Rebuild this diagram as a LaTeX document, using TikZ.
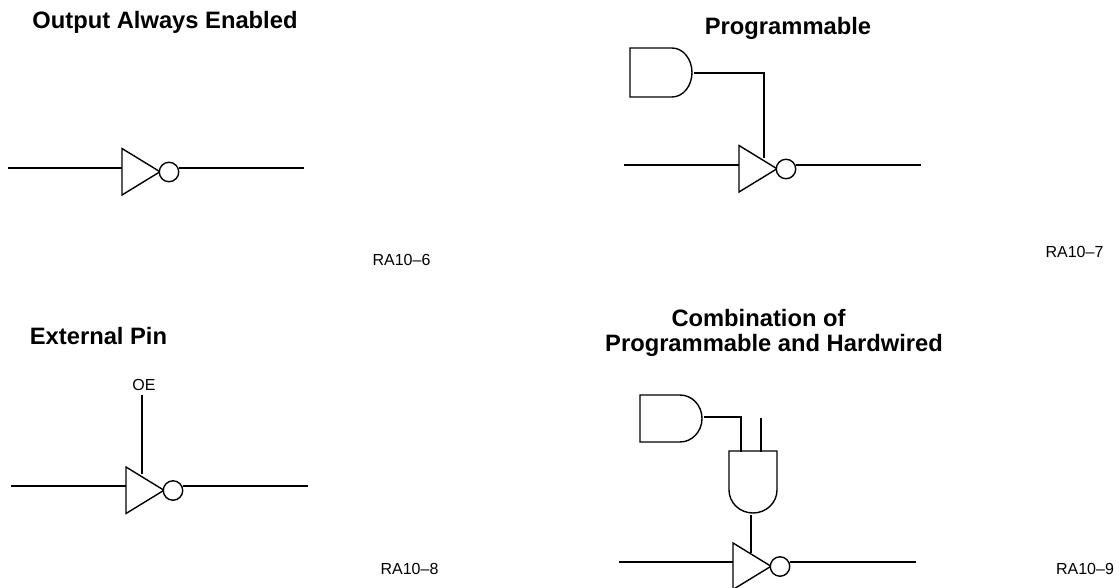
\documentclass[tikz,border=0pt]{standalone}
\usepackage{fontspec}
\setmainfont{Liberation Sans}
\usetikzlibrary{calc}
\tikzset{
  x=0.75pt,y=-0.75pt,
  wire/.style={line width=1.3pt,line cap=butt},
  gate/.style={line width=1.05pt,line join=miter},
  bubble/.style={circle,draw,line width=1.05pt,minimum size=14.6pt,inner sep=0pt,fill=white},
  title/.style={font=\fontsize{17.8}{20}\selectfont\bfseries,inner sep=0pt},
  tag/.style={font=\fontsize{12}{14}\selectfont,inner sep=0pt}
}
% name, triangle-left x, triangle-top y, wire y, input start x, output end x
\newcommand{\invgate}[6]{%
  \coordinate (#1top) at (#2,#3);
  \coordinate (#1bot) at ($(#2,#3)+(0,46.5)$);
  \coordinate (#1tip) at ($(#2,#3)+(38,23.25)$);
  \coordinate (#1in) at (#5,#4);
  \coordinate (#1lft) at (#2,#4);
  \coordinate (#1out) at (#6,#4);
  \draw[wire] (#1in) -- (#1lft);
  \draw[gate] (#1top) -- (#1tip) -- (#1bot) -- cycle;
  \node[bubble] (#1b) at ($(#2,#3)+(47,23.5)$) {};
  \draw[wire] (#1b.east |- #1out) -- (#1out);
}
\begin{document}
\begin{tikzpicture}
\useasboundingbox (0,0) rectangle (1119,588);

% Output Always Enabled
\node[title] (t1) at (165,22) {Output Always Enabled};
\invgate{a}{122}{148.5}{168}{8}{304}
\node[tag] (r1) at (401.5,260) {RA10–6};

% Programmable
\node[title] (t2) at (788,28) {Programmable};
\invgate{b}{739}{145.5}{165}{624}{921}
\coordinate (bt) at (630,48);
\draw[gate] (bt) -- (672,48) arc[start angle=-90,end angle=90,x radius=20,y radius=24.5] -- (630,97) -- cycle;
\coordinate (bo) at (694,73);
\coordinate (bc) at (764,73);
\coordinate (bd) at (764,158);
\draw[wire] (bo) -- (bc) -- (bd);
\node[tag] (r2) at (1074.5,252) {RA10–7};

% External Pin
\node[title] (t3) at (98.5,336) {External Pin};
\invgate{c}{126}{467}{486}{11}{308}
\node[tag] (oe) at (144,385) {OE};
\coordinate (ct) at (142,395);
\coordinate (cb) at (142,474);
\draw[wire] (ct) -- (cb);
\node[tag] (r3) at (409.5,569) {RA10–8};

% Combination
\node[title] (t4) at (758.5,318) {Combination of};
\node[title] (t5) at (774,345.5) {Programmable and Hardwired};
\invgate{d}{733}{543}{562}{619}{916}
\coordinate (dh) at (640,395);
\draw[gate] (dh) -- (680,395) arc[start angle=-90,end angle=90,x radius=22,y radius=23.5] -- (640,442) -- cycle;
\coordinate (dv) at (729,451);
\draw[gate] (dv) -- (777,451) -- (777,490) arc[start angle=0,end angle=180,x radius=24,y radius=23] -- cycle;
\coordinate (do) at (704,417);
\coordinate (dc) at (741,417);
\coordinate (dd) at (741,452);
\draw[wire] (do) -- (dc) -- (dd);
\coordinate (di) at (761,418);
\coordinate (dj) at (761,452);
\draw[wire] (di) -- (dj);
\coordinate (dk) at (751,515);
\coordinate (dl) at (751,553);
\draw[wire] (dk) -- (dl);
\node[tag] (r4) at (1085,569) {RA10–9};
\end{tikzpicture}
\end{document}
